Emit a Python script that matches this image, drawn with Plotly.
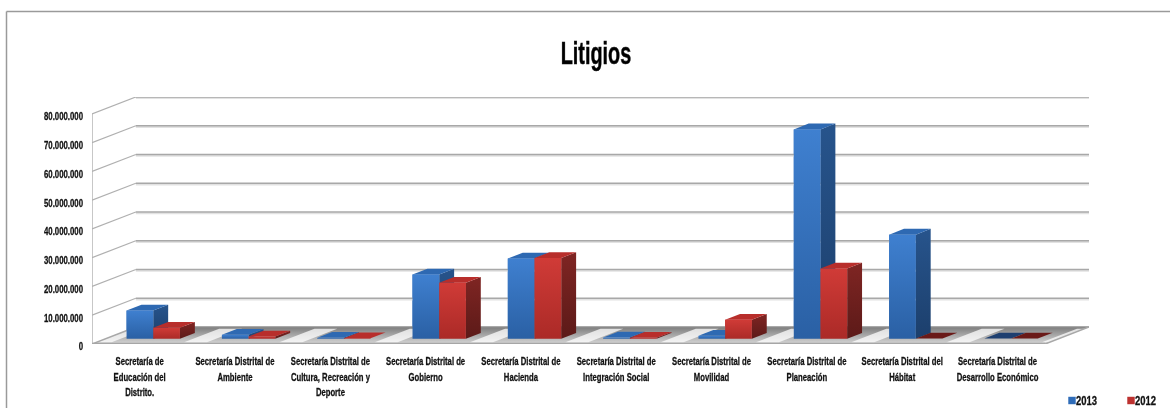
import plotly.graph_objects as go

categories = [
    "Secretaría de<br>Educación del<br>Distrito.",
    "Secretaría Distrital de<br>Ambiente",
    "Secretaría Distrital de<br>Cultura, Recreación y<br>Deporte",
    "Secretaría Distrital de<br>Gobierno",
    "Secretaría Distrital de<br>Hacienda",
    "Secretaría Distrital de<br>Integración Social",
    "Secretaría Distrital de<br>Movilidad",
    "Secretaría Distrital de<br>Planeación",
    "Secretaría Distrital del<br>Hábitat",
    "Secretaría Distrital de<br>Desarrollo Económico",
]
values_2013 = [9800000, 1400000, 300000, 22300000, 27900000, 400000, 1000000, 72800000, 36200000, 50000]
values_2012 = [3800000, 800000, 200000, 19500000, 28100000, 300000, 6600000, 24400000, 100000, 50000]
y_ticks = [0, 10000000, 20000000, 30000000, 40000000, 50000000, 60000000, 70000000, 80000000]
y_labels = ["0", "10.000.000", "20.000.000", "30.000.000", "40.000.000",
            "50.000.000", "60.000.000", "70.000.000", "80.000.000"]

FONT = "'Liberation Sans', Arial, sans-serif"
DX = 0.46          # wall depth, category units
DY = 5910000       # wall depth, value units
BAR_NEAR, BAR_FAR = 0.31, 0.65
BAR_W = 0.28
LEFT, RIGHT = -0.5, 9.5


def P(x, v, d):
    return x + DX * d, v + DY * d


def poly(corners):
    pts = [P(*c) for c in corners]
    pts.append(pts[0])
    return [p[0] for p in pts], [p[1] for p in pts]


def vgrad(top, bottom):
    return dict(type="vertical", colorscale=[[0, bottom], [1, top]])


def fill(corners, color=None, grad=None, opacity=1.0):
    xs, ys = poly(corners)
    kw = dict(fillgradient=grad) if grad else dict(fillcolor=color)
    return go.Scatter(x=xs, y=ys, mode="lines", fill="toself", line=dict(width=0),
                      opacity=opacity, hoverinfo="skip", showlegend=False, cliponaxis=False, **kw)


def path(points, color, width):
    pts = [P(*c) for c in points]
    return go.Scatter(x=[p[0] for p in pts], y=[p[1] for p in pts], mode="lines",
                      line=dict(color=color, width=width), hoverinfo="skip",
                      showlegend=False, cliponaxis=False)


fig = go.Figure()
idx = list(range(len(categories)))
shift_y = DY * BAR_NEAR
shift_x = DX * BAR_NEAR

# real bars: values, hover and legend
fig.add_trace(go.Bar(name="2013", x=idx, y=values_2013, base=shift_y, width=BAR_W,
                     offset=shift_x - BAR_W, marker=dict(color="#2f6cb8", line=dict(width=0))))
fig.add_trace(go.Bar(name="2012", x=idx, y=values_2012, base=shift_y, width=BAR_W,
                     offset=shift_x, marker=dict(color="#bd3230", line=dict(width=0))))

# floor
fig.add_trace(fill([(LEFT, 0, 0), (LEFT, 0, 1), (RIGHT, 0, 1), (RIGHT, 0, 0)],
                   grad=vgrad("#7d7d7d", "#d6d6d6")))
for i in idx + [10]:
    a, b = i - 0.5 - 0.08, i - 0.5 + 0.16
    a, b = max(a, LEFT), min(b, RIGHT)
    if b > a:
        fig.add_trace(fill([(a, 0, 0.1), (a, 0, 0.9), (b, 0, 0.9), (b, 0, 0.1)],
                           color="#ffffff", opacity=0.75))
fig.add_trace(path([(LEFT, 0, 1), (RIGHT, 0, 1)], "#8c8c8c", 1.5))
fig.add_trace(path([(RIGHT, 0, 0), (RIGHT, 0, 1)], "#a8a8a8", 1.5))
fig.add_trace(path([(LEFT, 0, 0), (LEFT, 0, 1)], "#a8a8a8", 1.5))

# walls and grid
fig.add_trace(path([(LEFT, 0, 0), (LEFT, y_ticks[-1], 0)], "#b4b4b4", 1.5))
for v in y_ticks[1:]:
    fig.add_trace(path([(LEFT, v - 400000, 1), (RIGHT, v - 400000, 1)], "#e2e2e2", 2))
    fig.add_trace(path([(LEFT, v, 0), (LEFT, v, 1)], "#b0b0b0", 1.2))
    fig.add_trace(path([(LEFT, v, 1), (RIGHT, v, 1)], "#a8a8a8", 1.7))
fig.add_trace(path([(LEFT, -350000, 0), (RIGHT, -350000, 0)], "#dddddd", 1.5))
fig.add_trace(path([(LEFT, 0, 0), (RIGHT, 0, 0)], "#a6a6a6", 2.5))

# 3-D boxes
STYLE = {
    "b": dict(front=("#3f80d0", "#2a60a4"), side=("#27548c", "#1c3f6c"), top="#2e69b2", low="#1e3f70"),
    "r": dict(front=("#d03b37", "#ab2a27"), side=("#7f2523", "#5c1a18"), top="#b82e2b", low="#6a1a18"),
}
for i in idx:
    for kind, val, x0 in (("b", values_2013[i], i - BAR_W), ("r", values_2012[i], float(i))):
        s = STYLE[kind]
        x1 = x0 + BAR_W
        fig.add_trace(fill([(x1, 0, BAR_NEAR), (x1, 0, BAR_FAR), (x1, val, BAR_FAR), (x1, val, BAR_NEAR)],
                           grad=vgrad(*s["side"])))
        fig.add_trace(fill([(x0, val, BAR_NEAR), (x0, val, BAR_FAR), (x1, val, BAR_FAR), (x1, val, BAR_NEAR)],
                           color=s["low"] if val <= 100000 else s["top"]))
        if val > 100000:
            fig.add_trace(fill([(x0, 0, BAR_NEAR), (x0, val, BAR_NEAR), (x1, val, BAR_NEAR), (x1, 0, BAR_NEAR)],
                               grad=vgrad(*s["front"])))

tick_html = ['<span style="font-size:11px">' + c.replace("<br>", '</span><br><span style="font-size:11px">') + "</span>"
             for c in categories]

fig.update_layout(
    width=1170, height=408, autosize=False,
    margin=dict(l=92, r=81, t=97, b=64, autoexpand=False),
    paper_bgcolor="#ffffff", plot_bgcolor="rgba(0,0,0,0)",
    barmode="overlay",
    font=dict(family=FONT, color="#111111", weight="bold"),
    title=dict(text="Litigios", x=596 / 1170, y=1 - 53 / 408, xanchor="center", yanchor="middle",
               font=dict(family=FONT, size=31, color="#000000", weight="bold")),
    xaxis=dict(range=[LEFT, RIGHT + DX], tickmode="array", tickvals=idx, ticktext=tick_html,
               showgrid=False, zeroline=False, showline=False, ticks="", ticklabelstandoff=8,
               automargin=False, tickangle=0, tickfont=dict(family=FONT, size=12, weight="bold")),
    yaxis=dict(range=[0, 85900000], tickmode="array", tickvals=y_ticks, ticktext=y_labels,
               showgrid=False, zeroline=False, showline=False, ticks="", ticklabelstandoff=8,
               automargin=False, tickfont=dict(family=FONT, size=11, weight="bold")),
    legend=dict(orientation="h", x=1036 / 1170, xanchor="left", y=1 - 386 / 408, yanchor="top",
                xref="container", yref="container", bgcolor="rgba(0,0,0,0)",
                font=dict(family=FONT, size=12, weight="bold"), entrywidth=14, itemwidth=30,
                traceorder="normal"),
    shapes=[
        dict(type="line", xref="paper", yref="paper", layer="below",
             x0=(6.5 - 92) / 997, x1=(1170 - 92) / 997, y0=1 + (97 - 11.5) / 247, y1=1 + (97 - 11.5) / 247,
             line=dict(color="#9a9a9a", width=1.5)),
        dict(type="line", xref="paper", yref="paper", layer="below",
             x0=(6.5 - 92) / 997, x1=(6.5 - 92) / 997, y0=1 + (97 - 11.5) / 247, y1=(344 - 408) / 247,
             line=dict(color="#9a9a9a", width=1.5)),
    ],
)

# Page without default margins; labels narrowed horizontally like the condensed originals.
POST = """
document.body.style.margin = '0';
function squeeze(sel, s, anchor, dy, stroke) {
  document.querySelectorAll(sel).forEach(function (t) {
    var b = t.getBBox();
    var c = anchor === 'end' ? b.x + b.width : anchor === 'start' ? b.x : b.x + b.width / 2;
    var tr = t.getAttribute('transform') || '';
    t.setAttribute('transform', tr + ' translate(' + c + ',' + dy + ') scale(' + s + ',1) translate(' + (-c) + ',0)');
    t.style.stroke = '#111111';
    t.style.strokeWidth = stroke + 'px';
  });
}
squeeze('.xtick text', 0.70, 'middle', 0, 0.3);
squeeze('.ytick text', 0.71, 'end', 2.5, 0.3);
squeeze('.g-gtitle text', 0.64, 'middle', 0, 0.5);
squeeze('.legendtext', 0.79, 'start', 0, 0.3);
document.querySelectorAll('.legend .legendpoints').forEach(function (g) {
  g.setAttribute('transform', 'translate(23.6,0) scale(0.62)');
});
document.querySelectorAll('.legend .scrollbox').forEach(function (g) { g.removeAttribute('clip-path'); g.style.clipPath = 'none'; });
document.querySelectorAll('.main-svg').forEach(function (s) { s.style.filter = 'blur(0.45px)'; s.style.overflow = 'visible'; });
"""
fig.write_html("out.html", post_script=POST, config={"displayModeBar": False})
